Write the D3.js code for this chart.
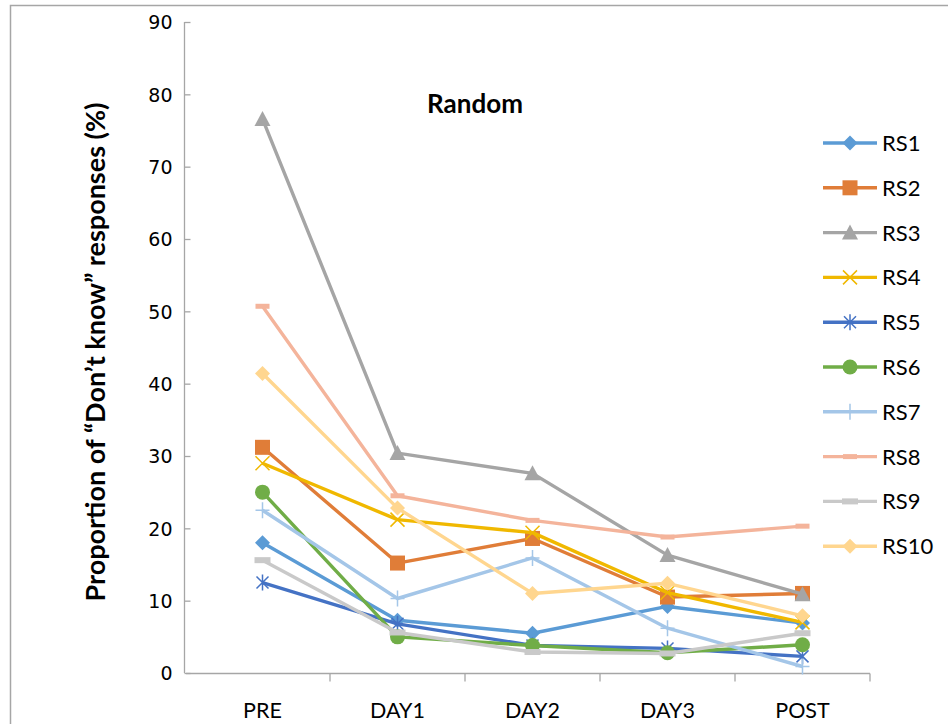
<!DOCTYPE html>
<html>
<head>
<meta charset="utf-8">
<script src="https://cdn.jsdelivr.net/npm/d3@7/dist/d3.min.js"></script>
<style>
  html, body { margin: 0; padding: 0; background: #fff; }
  svg { display: block; }
</style>
</head>
<body>
<svg id="chart" width="948" height="724"></svg>
<script>
// Sessions along the x axis
const sessions = ["PRE", "DAY1", "DAY2", "DAY3", "POST"];
const yTicks = [0, 10, 20, 30, 40, 50, 60, 70, 80, 90];

// Proportion of "Don't know" responses (%) per random set
const RS1 = [18.0, 7.3, 5.5, 9.2, 6.9];
const RS2 = [31.2, 15.2, 18.6, 10.5, 11.0];
const RS3 = [76.6, 30.4, 27.6, 16.3, 10.9];
const RS4 = [29.0, 21.2, 19.4, 11.1, 7.0];
const RS5 = [12.5, 6.8, 3.8, 3.4, 2.3];
const RS6 = [25.0, 5.0, 3.8, 2.8, 3.9];
const RS7 = [22.5, 10.3, 15.9, 6.2, 0.9];
const RS8 = [50.7, 24.5, 21.1, 18.8, 20.3];
const RS9 = [15.6, 5.6, 2.9, 2.7, 5.5];
const RS10 = [41.4, 22.8, 11.0, 12.4, 7.9];

const seriesNames = ["RS1", "RS2", "RS3", "RS4", "RS5", "RS6", "RS7", "RS8", "RS9", "RS10"];
const seriesValues = [RS1, RS2, RS3, RS4, RS5, RS6, RS7, RS8, RS9, RS10];
const seriesColors = ["#5b9bd5", "#e07d38", "#a5a5a5", "#f0b800", "#4472c4",
                      "#70ad47", "#a4c6e8", "#f4b49b", "#c9c9c9", "#ffd68f"];
const seriesMarkers = ["diamond", "square", "triangle", "x", "star",
                       "circle", "plus", "dash", "none", "diamond"];

const svg = d3.select("#chart");
const W = 948, H = 724;

// Outer chart frame (runs past the right and bottom edges)
svg.append("rect")
  .attr("x", 10.5).attr("y", 5.5)
  .attr("width", W + 20).attr("height", H + 20)
  .attr("fill", "none").attr("stroke", "#a6a6a6").attr("stroke-width", 1.5);

const x = d3.scaleBand().domain(sessions).range([195, 870]);
const y = d3.scaleLinear().domain([0, 90]).range([673, 22]);

const font = "'Lato', 'Open Sans', sans-serif";
const tickFont = "'DejaVu Sans', Verdana, sans-serif";

// Y axis
const yAxis = svg.append("g").attr("transform", "translate(190.5,0)")
  .call(d3.axisLeft(y).tickValues(yTicks).tickSize(6).tickPadding(12).tickFormat(d3.format("d")));
yAxis.select(".domain").attr("stroke", "#a6a6a6").attr("stroke-width", 1.3)
  .attr("d", "M-6,22V673");
yAxis.selectAll(".tick line").attr("stroke", "#a6a6a6").attr("stroke-width", 1.3);
yAxis.selectAll(".tick text").attr("font-family", tickFont).attr("font-size", 19)
  .attr("fill", "#000").attr("dy", "0.36em");

// X axis: ticks between categories
const xAxisG = svg.append("g").attr("transform", "translate(0,673.5)");
xAxisG.append("line").attr("x1", 186).attr("x2", 870).attr("y1", 0).attr("y2", 0)
  .attr("stroke", "#a6a6a6").attr("stroke-width", 1.3);
const boundaries = sessions.map(s => x(s)).concat([x.range()[1]]);
xAxisG.selectAll("line.tk").data(boundaries.slice(1)).join("line")
  .attr("class", "tk")
  .attr("x1", d => d).attr("x2", d => d).attr("y1", 0).attr("y2", 8)
  .attr("stroke", "#a6a6a6").attr("stroke-width", 1.3);
xAxisG.selectAll("text").data(sessions).join("text")
  .attr("x", d => x(d) + x.bandwidth() / 2)
  .attr("y", 44)
  .attr("text-anchor", "middle")
  .attr("font-family", font).attr("font-size", 21.5).attr("fill", "#000")
  .text(d => d);

// Axis title
svg.append("text")
  .attr("transform", "translate(105,352) rotate(-90)")
  .attr("text-anchor", "middle")
  .attr("font-family", font).attr("font-weight", "bold").attr("font-size", 27)
  .attr("fill", "#000")
  .text("Proportion of \u201CDon\u2019t know\u201D responses (%)");

// Chart title
svg.append("text")
  .attr("x", 475).attr("y", 113)
  .attr("text-anchor", "middle")
  .attr("font-family", font).attr("font-weight", "bold").attr("font-size", 26)
  .attr("fill", "#000")
  .text("Random");

const cx = d => x(d) + x.bandwidth() / 2;

function drawMarker(g, type, color) {
  switch (type) {
    case "diamond":
      g.append("path").attr("d", "M0,-7.5L7.5,0L0,7.5L-7.5,0Z").attr("fill", color);
      break;
    case "square":
      g.append("rect").attr("x", -7.5).attr("y", -7.5).attr("width", 15).attr("height", 15).attr("fill", color);
      break;
    case "triangle":
      g.append("path").attr("d", "M0,-8L8,7L-8,7Z").attr("fill", color);
      break;
    case "circle":
      g.append("circle").attr("r", 7.5).attr("fill", color);
      break;
    case "x":
      g.append("path").attr("d", "M-7,-7L7,7M-7,7L7,-7").attr("stroke", color).attr("stroke-width", 1.5);
      break;
    case "star":
      g.append("path").attr("d", "M-6,-6L6,6M-6,6L6,-6M0,-8V8")
        .attr("stroke", color).attr("stroke-width", 1.5);
      break;
    case "plus":
      g.append("path").attr("d", "M-7,0H7M0,-8V8").attr("stroke", color).attr("stroke-width", 1.5);
      break;
    case "dash":
      g.append("rect").attr("x", -7).attr("y", -2.5).attr("width", 14).attr("height", 5).attr("fill", color);
      break;
    case "none":
      g.append("rect").attr("x", -8).attr("y", -3).attr("width", 16).attr("height", 6).attr("fill", color);
      break;
  }
}

const line = d3.line().x((d, i) => cx(sessions[i])).y(d => y(d));

const plot = svg.append("g");
seriesValues.forEach((vals, k) => {
  const g = plot.append("g");
  g.append("path").datum(vals).attr("d", line)
    .attr("fill", "none").attr("stroke", seriesColors[k])
    .attr("stroke-width", 3.4).attr("stroke-linejoin", "round");
  vals.forEach((v, i) => {
    const m = g.append("g").attr("transform", `translate(${cx(sessions[i])},${y(v)})`);
    drawMarker(m, seriesMarkers[k], seriesColors[k]);
  });
});

// Legend
const legend = svg.append("g").attr("transform", "translate(823,143)");
seriesNames.forEach((name, k) => {
  const row = legend.append("g").attr("transform", `translate(0,${k * 44.8})`);
  row.append("line").attr("x1", 0).attr("x2", 54).attr("y1", 0).attr("y2", 0)
    .attr("stroke", seriesColors[k]).attr("stroke-width", 3.4);
  const m = row.append("g").attr("transform", "translate(27,0)");
  drawMarker(m, seriesMarkers[k], seriesColors[k]);
  row.append("text").attr("x", 59).attr("y", 0).attr("dy", "0.36em")
    .attr("font-family", font).attr("font-size", 22).attr("fill", "#000")
    .text(name);
});
</script>
</body>
</html>
